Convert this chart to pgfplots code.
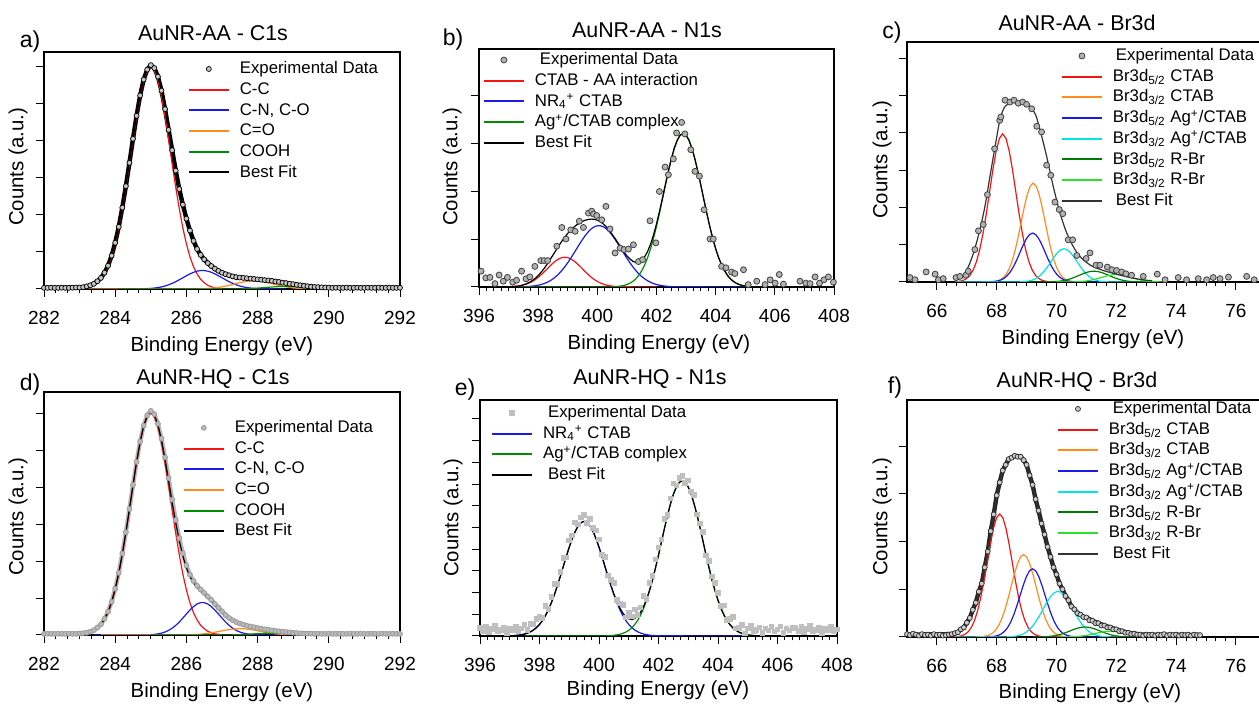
\documentclass[border=0pt]{standalone}
\usepackage{fontspec}
\setmainfont{Liberation Sans}
\usepackage{pgfplots}
\pgfplotsset{compat=1.18}
\definecolor{cRed}{RGB}{245,20,20}
\definecolor{cBlue}{RGB}{25,25,235}
\definecolor{cOrange}{RGB}{255,140,30}
\definecolor{cGreen}{RGB}{0,140,0}
\definecolor{cCyan}{RGB}{0,228,228}
\definecolor{cDGreen}{RGB}{0,125,0}
\definecolor{cLGreen}{RGB}{40,225,40}
\pgfplotsset{
  xps/.style={
    scale only axis, anchor=south west,
    axis line style={black, line width=0.6pt},
    tick align=outside, tick pos=left,
    major tick length=4pt, minor tick length=2.2pt,
    tick style={black, line width=0.5pt},
    yticklabels={}, ymin=0,
    xticklabel style={font=\fontsize{9.5}{10}\selectfont, yshift=-3.5pt},
    /pgf/number format/assume math mode=true,
    /pgf/number format/1000 sep={},
    legend style={draw=none, fill=none, anchor=north west, inner sep=0pt, outer sep=0pt,
      font=\fontsize{8.4}{9}\selectfont, row sep=0pt,
      nodes={inner sep=1pt, text height=6.5pt, text depth=1.85pt},
      /tikz/every odd column/.append style={column sep=4pt}},
    legend cell align=left,
    legend image code/.code={\draw[##1, line width=1pt] (0pt,0pt) -- (20pt,0pt);},
    every axis plot/.append style={line width=0.6pt},
  },
  mk/.style={only marks, legend image code/.code={\draw[##1,only marks] plot coordinates {(10pt,0pt)};}},
}
\begin{document}
\begin{tikzpicture}
\useasboundingbox (0,0) rectangle (629.5pt,352.5pt);
% ---------------- a ----------------
\begin{axis}[xps, at={(22pt,208pt)}, width=178pt, height=118.5pt,
  xmin=282, xmax=292, ymax=6.405, xtick={282,284,...,292}, ytick={0,...,6}, minor x tick num=5,
  legend style={at={(0.404,0.972)}}]
\addplot[black, line width=2.2pt, line join=round, forget plot] coordinates {(282.0,0.03)(282.5,0.035)(283.0,0.04)(283.1,0.05)(283.2,0.07)(283.3,0.10)(283.4,0.14)(283.5,0.21)(283.6,0.30)(283.7,0.44)(283.8,0.63)(283.9,0.90)(284.0,1.25)(284.1,1.68)(284.2,2.20)(284.3,2.78)(284.4,3.41)(284.5,4.06)(284.6,4.68)(284.7,5.23)(284.8,5.66)(284.9,5.93)(285.0,6.05)(285.1,5.97)(285.2,5.74)(285.3,5.36)(285.4,4.86)(285.5,4.30)(285.6,3.75)(285.7,3.20)(285.8,2.70)(285.9,2.28)(286.0,1.90)(286.1,1.58)(286.2,1.30)(286.3,1.08)(286.4,0.92)(286.5,0.80)(286.6,0.70)(286.7,0.62)(286.8,0.55)(286.9,0.49)(287.0,0.44)(287.2,0.37)(287.4,0.32)(287.6,0.30)(287.8,0.28)(288.0,0.26)(288.2,0.24)(288.4,0.22)(288.6,0.19)(288.8,0.16)(289.0,0.13)(289.2,0.10)(289.4,0.075)(289.6,0.055)(289.8,0.045)(290.0,0.035)(290.5,0.03)(292.0,0.03)};
\addplot[mk, mark=*, mark size=1.25pt, mark options={fill=gray!45, draw=black, line width=0.35pt}] coordinates {(282.0,0.03)(282.1,0.03)(282.2,0.035)(282.3,0.03)(282.4,0.03)(282.5,0.035)(282.6,0.03)(282.7,0.03)(282.8,0.035)(282.9,0.04)(283.0,0.04)(283.1,0.05)(283.2,0.07)(283.3,0.10)(283.4,0.14)(283.5,0.21)(283.6,0.30)(283.7,0.44)(283.8,0.63)(283.9,0.90)(284.0,1.25)(284.1,1.68)(284.2,2.20)(284.3,2.78)(284.4,3.41)(284.5,4.06)(284.6,4.68)(284.7,5.23)(284.8,5.66)(284.9,5.93)(285.0,6.05)(285.1,5.97)(285.2,5.74)(285.3,5.36)(285.4,4.86)(285.5,4.30)(285.6,3.75)(285.7,3.20)(285.8,2.70)(285.9,2.28)(286.0,1.90)(286.1,1.58)(286.2,1.30)(286.3,1.08)(286.4,0.92)(286.5,0.80)(286.6,0.70)(286.7,0.62)(286.8,0.55)(286.9,0.49)(287.0,0.44)(287.1,0.40)(287.2,0.37)(287.3,0.34)(287.4,0.32)(287.5,0.31)(287.6,0.30)(287.7,0.29)(287.8,0.28)(287.9,0.27)(288.0,0.26)(288.1,0.25)(288.2,0.24)(288.3,0.23)(288.4,0.22)(288.5,0.20)(288.6,0.19)(288.7,0.17)(288.8,0.16)(288.9,0.14)(289.0,0.13)(289.1,0.11)(289.2,0.10)(289.3,0.085)(289.4,0.075)(289.5,0.06)(289.6,0.055)(289.7,0.05)(289.8,0.045)(289.9,0.04)(290.0,0.035)(290.1,0.03)(290.2,0.035)(290.3,0.03)(290.4,0.03)(290.5,0.035)(290.6,0.03)(290.7,0.03)(290.8,0.035)(290.9,0.03)(291.0,0.03)(291.1,0.035)(291.2,0.03)(291.3,0.03)(291.4,0.035)(291.5,0.03)(291.6,0.03)(291.7,0.035)(291.8,0.03)(291.9,0.03)(292.0,0.035)};
\addlegendentry{Experimental Data}
\addplot[cRed] coordinates {(283.0,0.01)(283.1,0.02)(283.2,0.03)(283.3,0.06)(283.4,0.10)(283.5,0.17)(283.6,0.26)(283.7,0.41)(283.8,0.60)(283.9,0.87)(284.0,1.22)(284.1,1.65)(284.2,2.17)(284.3,2.75)(284.4,3.38)(284.5,4.03)(284.6,4.65)(284.7,5.20)(284.8,5.63)(284.9,5.90)(285.0,6.00)(285.1,5.90)(285.2,5.63)(285.3,5.20)(285.4,4.65)(285.5,4.03)(285.6,3.38)(285.7,2.75)(285.8,2.17)(285.9,1.65)(286.0,1.22)(286.1,0.87)(286.2,0.60)(286.3,0.41)(286.4,0.26)(286.5,0.17)(286.6,0.10)(286.7,0.06)(286.8,0.03)(286.9,0.02)(287.0,0.01)};
\addlegendentry{C-C}
\addplot[cBlue] coordinates {(284.9,0.01)(285.0,0.016)(285.1,0.025)(285.2,0.038)(285.3,0.056)(285.4,0.081)(285.5,0.113)(285.6,0.152)(285.7,0.197)(285.8,0.249)(285.9,0.303)(286.0,0.358)(286.1,0.408)(286.2,0.451)(286.3,0.482)(286.4,0.498)(286.5,0.498)(286.6,0.482)(286.7,0.451)(286.8,0.408)(286.9,0.358)(287.0,0.303)(287.1,0.249)(287.2,0.197)(287.3,0.152)(287.4,0.113)(287.5,0.081)(287.6,0.056)(287.7,0.038)(287.8,0.025)(287.9,0.016)(288.0,0.009)(288.8,0)};
\addlegendentry{C-N, C-O}
\addplot[cOrange] coordinates {(283.2,0)(286.3,0)(286.4,0.005)(286.5,0.009)(286.6,0.013)(286.7,0.020)(286.8,0.030)(286.9,0.042)(287.0,0.058)(287.1,0.076)(287.2,0.098)(287.3,0.121)(287.4,0.146)(287.5,0.169)(287.6,0.190)(287.7,0.206)(287.8,0.216)(287.9,0.220)(288.0,0.216)(288.1,0.206)(288.2,0.190)(288.3,0.169)(288.4,0.146)(288.5,0.121)(288.6,0.098)(288.7,0.076)(288.8,0.058)(288.9,0.042)(289.0,0.030)(289.1,0.020)(289.2,0.013)(289.3,0.009)(289.4,0.005)(289.5,0)};
\addlegendentry{C=O}
\addplot[cGreen] coordinates {(284.1,0)(287.5,0)(287.6,0.006)(287.7,0.009)(287.8,0.013)(287.9,0.018)(288.0,0.024)(288.1,0.031)(288.2,0.039)(288.3,0.046)(288.4,0.054)(288.5,0.060)(288.6,0.066)(288.7,0.069)(288.8,0.070)(288.9,0.069)(289.0,0.066)(289.1,0.060)(289.2,0.054)(289.3,0.046)(289.4,0.039)(289.5,0.031)(289.6,0.024)(289.7,0.018)(289.8,0.013)(289.9,0.009)(290.0,0.006)(290.1,0)};
\addlegendentry{COOH}
\addplot[black] coordinates {(282.0,0.03)(283.0,0.04)(283.1,0.05)(283.2,0.07)(283.3,0.10)(283.4,0.14)(283.5,0.21)(283.6,0.30)(283.7,0.44)(283.8,0.63)(283.9,0.90)(284.0,1.25)(284.1,1.68)(284.2,2.20)(284.3,2.78)(284.4,3.41)(284.5,4.06)(284.6,4.68)(284.7,5.23)(284.8,5.66)(284.9,5.93)(285.0,6.05)(285.1,5.97)(285.2,5.74)(285.3,5.36)(285.4,4.86)(285.5,4.30)(285.6,3.75)(285.7,3.20)(285.8,2.70)(285.9,2.28)(286.0,1.90)(286.1,1.58)(286.2,1.30)(286.3,1.08)(286.4,0.92)(286.5,0.80)(286.6,0.70)(286.7,0.62)(286.8,0.55)(286.9,0.49)(287.0,0.44)(287.2,0.37)(287.4,0.32)(287.6,0.30)(287.8,0.28)(288.0,0.26)(288.2,0.24)(288.4,0.22)(288.6,0.19)(288.8,0.16)(289.0,0.13)(289.2,0.10)(289.4,0.075)(289.6,0.055)(289.8,0.045)(290.0,0.035)(290.5,0.03)(292.0,0.03)};
\addlegendentry{Best Fit}
\end{axis}
% ---------------- b ----------------
\begin{axis}[xps, at={(239.5pt,209pt)}, width=177.5pt, height=119pt,
  xmin=396, xmax=408, ymax=4.96, xtick={396,398,...,408}, ytick={0,...,4}, minor x tick num=7,
  legend style={at={(0.011,0.997)}}]
\addplot[mk, mark=*, mark size=1.5pt, mark options={fill=gray!60, draw=black!75, line width=0.4pt}] coordinates {(396.07,0.33)(396.23,0.19)(396.37,0.20)(396.54,0.07)(396.68,0.25)(396.82,0.12)(396.96,0.20)(397.14,0.10)(397.27,0.14)(397.44,0.33)(397.59,0.17)(397.72,0.21)(397.89,0.43)(398.09,0.55)(398.20,0.55)(398.32,0.55)(398.63,0.85)(398.80,1.24)(398.94,1.00)(399.10,1.19)(399.25,1.16)(399.39,1.37)(399.53,1.24)(399.70,1.54)(399.81,1.58)(399.87,1.52)(399.98,1.49)(400.15,1.40)(400.29,1.68)(400.43,1.21)(400.60,0.71)(400.77,0.81)(400.90,0.78)(401.05,0.79)(401.22,0.88)(401.39,0.53)(401.53,0.57)(401.78,1.38)(401.98,0.92)(402.10,1.99)(402.29,2.50)(402.40,2.34)(402.57,2.67)(402.68,3.21)(402.85,3.43)(402.96,3.19)(403.16,2.86)(403.30,2.41)(403.45,2.31)(403.61,1.61)(403.81,1.00)(403.92,1.00)(404.20,0.43)(404.35,0.40)(404.54,0.31)(404.65,0.28)(404.94,0.36)(405.10,0.05)(405.39,0.12)(405.67,0.05)(405.84,0.15)(406.01,0.08)(406.15,0.26)(406.29,0.06)(406.85,0.12)(407.05,0.08)(407.19,0.07)(407.36,0.21)(407.51,0.08)(407.66,0.15)(407.81,0.21)(407.98,0.10)};
\addlegendentry{\hspace{2.5pt}Experimental Data}
\addplot[cRed] coordinates {(397.0,0.004)(397.1,0.007)(397.2,0.011)(397.3,0.018)(397.4,0.027)(397.5,0.041)(397.6,0.059)(397.7,0.084)(397.8,0.115)(397.9,0.154)(398.0,0.20)(398.1,0.255)(398.2,0.314)(398.3,0.376)(398.4,0.438)(398.5,0.497)(398.6,0.547)(398.7,0.587)(398.8,0.611)(398.9,0.62)(399.0,0.611)(399.1,0.587)(399.2,0.547)(399.3,0.497)(399.4,0.438)(399.5,0.376)(399.6,0.314)(399.7,0.255)(399.8,0.20)(399.9,0.154)(400.0,0.115)(400.1,0.084)(400.2,0.059)(400.3,0.041)(400.4,0.027)(400.5,0.018)(400.6,0.011)(400.7,0.007)(400.8,0.004)(402.0,0)};
\addlegendentry{CTAB - AA interaction}
\addplot[cBlue] coordinates {(397.0,0)(397.5,0.005)(397.6,0.008)(397.7,0.012)(397.8,0.018)(397.9,0.026)(398.0,0.037)(398.1,0.052)(398.2,0.071)(398.3,0.097)(398.4,0.129)(398.5,0.169)(398.6,0.217)(398.7,0.275)(398.8,0.343)(398.9,0.420)(399.0,0.506)(399.1,0.598)(399.2,0.696)(399.3,0.796)(399.4,0.896)(399.5,0.992)(399.6,1.079)(399.7,1.154)(399.8,1.215)(399.9,1.256)(400.0,1.277)(400.1,1.277)(400.2,1.256)(400.3,1.215)(400.4,1.154)(400.5,1.079)(400.6,0.992)(400.7,0.896)(400.8,0.796)(400.9,0.696)(401.0,0.598)(401.1,0.506)(401.2,0.420)(401.3,0.343)(401.4,0.275)(401.5,0.217)(401.6,0.169)(401.7,0.129)(401.8,0.097)(401.9,0.071)(402.0,0.052)(402.1,0.037)(402.2,0.026)(402.3,0.018)(402.4,0.012)(402.5,0.008)(402.6,0.005)(405.1,0)};
\addlegendentry{NR\textsubscript{4}\textsuperscript{+} CTAB}
\addplot[cGreen] coordinates {(397.2,0)(400.5,0)(400.6,0.007)(400.7,0.012)(400.8,0.020)(400.9,0.032)(401.0,0.051)(401.1,0.078)(401.2,0.116)(401.3,0.169)(401.4,0.242)(401.5,0.338)(401.6,0.46)(401.7,0.612)(401.8,0.798)(401.9,1.015)(402.0,1.264)(402.1,1.535)(402.2,1.824)(402.3,2.117)(402.4,2.40)(402.5,2.662)(402.6,2.886)(402.7,3.056)(402.8,3.164)(402.9,3.2)(403.0,3.164)(403.1,3.056)(403.2,2.886)(403.3,2.662)(403.4,2.40)(403.5,2.117)(403.6,1.824)(403.7,1.535)(403.8,1.264)(403.9,1.015)(404.0,0.798)(404.1,0.612)(404.2,0.46)(404.3,0.338)(404.4,0.242)(404.5,0.169)(404.6,0.116)(404.7,0.078)(404.8,0.051)(404.9,0.032)(405.0,0.020)(405.1,0.012)(405.2,0.007)(405.3,0)};
\addlegendentry{Ag\textsuperscript{+}/CTAB complex}
\addplot[black] coordinates {(397.0,0.004)(397.1,0.007)(397.2,0.011)(397.3,0.018)(397.4,0.027)(397.5,0.046)(397.6,0.067)(397.7,0.096)(397.8,0.133)(397.9,0.18)(398.0,0.237)(398.1,0.307)(398.2,0.385)(398.3,0.473)(398.4,0.567)(398.5,0.666)(398.6,0.764)(398.7,0.862)(398.8,0.954)(398.9,1.04)(399.0,1.117)(399.1,1.185)(399.2,1.243)(399.3,1.293)(399.4,1.334)(399.5,1.368)(399.6,1.393)(399.7,1.409)(399.8,1.415)(399.9,1.41)(400.0,1.392)(400.1,1.361)(400.2,1.315)(400.3,1.256)(400.4,1.181)(400.5,1.097)(400.6,1.01)(400.7,0.915)(400.8,0.82)(400.9,0.73)(401.0,0.649)(401.1,0.584)(401.2,0.536)(401.3,0.512)(401.4,0.517)(401.5,0.555)(401.6,0.629)(401.7,0.741)(401.8,0.895)(401.9,1.086)(402.0,1.316)(402.1,1.572)(402.2,1.85)(402.3,2.135)(402.4,2.412)(402.5,2.67)(402.6,2.891)(402.7,3.059)(402.8,3.164)(402.9,3.2)(403.0,3.164)(403.1,3.056)(403.2,2.886)(403.3,2.662)(403.4,2.40)(403.5,2.117)(403.6,1.824)(403.7,1.535)(403.8,1.264)(403.9,1.015)(404.0,0.798)(404.1,0.612)(404.2,0.46)(404.3,0.338)(404.4,0.242)(404.5,0.169)(404.6,0.116)(404.7,0.078)(404.8,0.051)(404.9,0.032)(405.0,0.020)(405.1,0.012)(405.2,0.007)(405.3,0)};
\addlegendentry{Best Fit}
\end{axis}
% ---------------- c ----------------
\begin{axis}[xps, at={(453.5pt,211.5pt)}, width=179.4pt, height=120pt,
  xmin=65, xmax=77, ymax=6.43, xtick={66,68,...,76}, ytick={0,...,6}, minor x tick num=5,
  legend style={at={(0.429,0.985)}}]
\addplot[mk, mark=*, mark size=1.5pt, mark options={fill=gray!60, draw=black!75, line width=0.4pt}] coordinates {(65.10,0.12)(65.27,0.06)(65.64,0.27)(65.94,0.21)(66.05,0.06)(66.21,0.09)(66.64,0.12)(66.77,0.15)(66.97,0.18)(67.05,0.29)(67.27,0.87)(67.39,1.37)(67.55,1.54)(67.69,2.34)(67.93,3.57)(68.10,4.33)(68.14,4.42)(68.28,4.87)(68.44,4.82)(68.58,4.87)(68.72,4.79)(68.87,4.82)(69.00,4.76)(69.17,4.64)(69.34,4.17)(69.50,4.02)(69.67,3.13)(69.81,2.86)(69.95,2.14)(70.09,1.94)(70.21,1.83)(70.39,1.13)(70.54,1.13)(70.68,0.71)(70.99,0.63)(71.12,0.78)(71.32,0.45)(71.45,0.45)(71.70,0.40)(71.85,0.33)(72.01,0.31)(72.18,0.27)(72.32,0.22)(72.51,0.18)(72.90,0.15)(73.37,0.21)(73.63,0.06)(74.07,0.12)(74.35,0.06)(74.74,0.09)(75.02,0.06)(75.24,0.12)(75.47,0.09)(75.75,0.13)(76.36,0.15)(76.61,0.06)};
\addlegendentry{\hspace{1.5pt}Experimental Data}
\addplot[cRed] coordinates {(66.6,0)(66.66,0.009)(66.77,0.020)(66.88,0.044)(66.99,0.091)(67.10,0.174)(67.21,0.316)(67.32,0.537)(67.43,0.859)(67.54,1.289)(67.65,1.817)(67.76,2.408)(67.87,2.997)(67.98,3.504)(68.09,3.847)(68.20,3.97)(68.31,3.847)(68.42,3.504)(68.53,2.997)(68.64,2.408)(68.75,1.817)(68.86,1.289)(68.97,0.859)(69.08,0.537)(69.19,0.316)(69.30,0.174)(69.41,0.091)(69.52,0.044)(69.63,0.020)(69.74,0.009)(70.5,0)};
\addlegendentry{Br3d\textsubscript{5/2} CTAB}
\addplot[cOrange] coordinates {(67.5,0)(67.82,0.006)(67.92,0.0135)(68.02,0.029)(68.12,0.06)(68.22,0.116)(68.32,0.211)(68.42,0.359)(68.52,0.573)(68.62,0.86)(68.72,1.213)(68.82,1.607)(68.92,2.0)(69.02,2.339)(69.12,2.568)(69.22,2.65)(69.32,2.568)(69.42,2.339)(69.52,2.0)(69.62,1.607)(69.72,1.213)(69.82,0.86)(69.92,0.573)(70.02,0.359)(70.12,0.211)(70.22,0.116)(70.32,0.06)(70.42,0.029)(70.52,0.0135)(70.62,0.006)(71.0,0)};
\addlegendentry{Br3d\textsubscript{3/2} CTAB}
\addplot[cBlue] coordinates {(67.5,0)(67.73,0.0029)(67.835,0.0067)(67.94,0.0145)(68.045,0.030)(68.15,0.0575)(68.255,0.104)(68.36,0.177)(68.465,0.283)(68.57,0.425)(68.675,0.600)(68.78,0.795)(68.885,0.989)(68.99,1.156)(69.095,1.269)(69.2,1.31)(69.305,1.269)(69.41,1.156)(69.515,0.989)(69.62,0.795)(69.725,0.600)(69.83,0.425)(69.935,0.283)(70.04,0.177)(70.145,0.104)(70.25,0.0575)(70.355,0.030)(70.46,0.0145)(70.565,0.0067)(70.67,0.0029)(71.7,0)};
\addlegendentry{Br3d\textsubscript{5/2} Ag\textsuperscript{+}/CTAB}
\addplot[cCyan] coordinates {(66.6,0)(68.71,0.002)(68.82,0.0045)(68.93,0.0099)(69.04,0.0203)(69.15,0.039)(69.26,0.0708)(69.37,0.120)(69.48,0.1925)(69.59,0.289)(69.70,0.407)(69.81,0.540)(69.92,0.672)(70.03,0.785)(70.14,0.862)(70.25,0.89)(70.36,0.862)(70.47,0.785)(70.58,0.672)(70.69,0.540)(70.80,0.407)(70.91,0.289)(71.02,0.1925)(71.13,0.120)(71.24,0.0708)(71.35,0.039)(71.46,0.0203)(71.57,0.0099)(71.68,0.0045)(71.79,0.002)(73.3,0)};
\addlegendentry{Br3d\textsubscript{3/2} Ag\textsuperscript{+}/CTAB}
\addplot[cDGreen] coordinates {(69.0,0)(69.75,0.0032)(69.875,0.0066)(70.0,0.013)(70.125,0.023)(70.25,0.039)(70.375,0.063)(70.5,0.094)(70.625,0.133)(70.75,0.176)(70.875,0.219)(71.0,0.256)(71.125,0.281)(71.25,0.29)(71.375,0.281)(71.5,0.256)(71.625,0.219)(71.75,0.176)(71.875,0.133)(72.0,0.094)(72.125,0.063)(72.25,0.039)(72.375,0.023)(72.5,0.013)(72.625,0.0066)(72.75,0.0032)(73.0,0)};
\addlegendentry{Br3d\textsubscript{5/2} R-Br}
\addplot[cLGreen] coordinates {(70.0,0)(70.5,0.0022)(70.625,0.0046)(70.75,0.0088)(70.875,0.0159)(71.0,0.027)(71.125,0.0433)(71.25,0.065)(71.375,0.0916)(71.5,0.121)(71.625,0.151)(71.75,0.1765)(71.875,0.194)(72.0,0.2)(72.125,0.194)(72.25,0.1765)(72.375,0.151)(72.5,0.121)(72.625,0.0916)(72.75,0.065)(72.875,0.0433)(73.0,0.027)(73.125,0.0159)(73.25,0.0088)(73.375,0.0046)(73.5,0.0022)(73.7,0)};
\addlegendentry{Br3d\textsubscript{3/2} R-Br}
\addplot[black!80, smooth] coordinates {(66.6,0.03)(66.8,0.12)(67.0,0.32)(67.2,0.72)(67.4,1.28)(67.6,2.0)(67.8,2.95)(68.0,3.88)(68.1,4.32)(68.2,4.58)(68.3,4.72)(68.5,4.81)(68.8,4.83)(69.0,4.78)(69.1,4.72)(69.3,4.48)(69.45,4.07)(69.6,3.6)(69.7,3.26)(69.9,2.53)(70.1,1.9)(70.3,1.4)(70.5,1.04)(70.7,0.77)(70.9,0.59)(71.2,0.42)(71.6,0.3)(72.0,0.21)(72.4,0.13)(72.8,0.07)(73.2,0.03)};
\addlegendentry{\hspace{1.5pt}Best Fit}
\end{axis}
% ---------------- d ----------------
\begin{axis}[xps, at={(22pt,35pt)}, width=178pt, height=121.5pt,
  xmin=282, xmax=292, ymax=6.57, xtick={282,284,...,292}, ytick={0,...,6}, minor x tick num=5,
  legend style={at={(0.390,0.895)}}]
\addplot[gray!55, line width=2.2pt, line join=round, forget plot] coordinates {(282.0,0.03)(283.0,0.04)(283.1,0.05)(283.2,0.06)(283.3,0.09)(283.4,0.13)(283.5,0.20)(283.6,0.29)(283.7,0.44)(283.8,0.63)(283.9,0.90)(284.0,1.25)(284.1,1.68)(284.2,2.20)(284.3,2.78)(284.4,3.41)(284.5,4.06)(284.6,4.68)(284.7,5.23)(284.8,5.66)(284.9,5.94)(285.0,6.06)(285.1,5.97)(285.2,5.71)(285.3,5.31)(285.4,4.80)(285.5,4.24)(285.6,3.66)(285.7,3.11)(285.8,2.62)(285.9,2.21)(286.0,1.88)(286.1,1.63)(286.2,1.46)(286.3,1.33)(286.4,1.23)(286.5,1.14)(286.6,1.04)(286.7,0.95)(286.8,0.84)(286.9,0.74)(287.0,0.64)(287.1,0.54)(287.2,0.46)(287.3,0.40)(287.4,0.35)(287.5,0.31)(287.6,0.28)(287.7,0.25)(287.8,0.23)(287.9,0.21)(288.0,0.19)(288.2,0.155)(288.4,0.125)(288.6,0.10)(288.8,0.08)(289.0,0.06)(289.2,0.045)(289.4,0.04)(289.6,0.03)(292.0,0.03)};
\addplot[mk, mark=*, mark size=1.25pt, mark options={fill=gray!55, draw=gray!80, line width=0.35pt}] coordinates {(282.0,0.03)(282.1,0.035)(282.2,0.03)(282.3,0.03)(282.4,0.035)(282.5,0.03)(282.6,0.03)(282.7,0.035)(282.8,0.03)(282.9,0.03)(283.0,0.04)(283.1,0.05)(283.2,0.06)(283.3,0.09)(283.4,0.13)(283.5,0.20)(283.6,0.29)(283.7,0.44)(283.8,0.63)(283.9,0.90)(284.0,1.25)(284.1,1.68)(284.2,2.20)(284.3,2.78)(284.4,3.41)(284.5,4.06)(284.6,4.68)(284.7,5.23)(284.8,5.66)(284.9,5.94)(285.0,6.06)(285.1,5.97)(285.2,5.71)(285.3,5.31)(285.4,4.80)(285.5,4.24)(285.6,3.66)(285.7,3.11)(285.8,2.62)(285.9,2.21)(286.0,1.88)(286.1,1.63)(286.2,1.46)(286.3,1.33)(286.4,1.23)(286.5,1.14)(286.6,1.04)(286.7,0.95)(286.8,0.84)(286.9,0.74)(287.0,0.64)(287.1,0.54)(287.2,0.46)(287.3,0.40)(287.4,0.35)(287.5,0.31)(287.6,0.28)(287.7,0.25)(287.8,0.23)(287.9,0.21)(288.0,0.19)(288.1,0.17)(288.2,0.155)(288.3,0.14)(288.4,0.125)(288.5,0.11)(288.6,0.10)(288.7,0.09)(288.8,0.08)(288.9,0.07)(289.0,0.06)(289.1,0.05)(289.2,0.045)(289.3,0.04)(289.4,0.04)(289.5,0.035)(289.6,0.03)(289.7,0.035)(289.8,0.03)(289.9,0.03)(290.0,0.035)(290.1,0.03)(290.2,0.03)(290.3,0.035)(290.4,0.03)(290.5,0.03)(290.6,0.035)(290.7,0.03)(290.8,0.03)(290.9,0.035)(291.0,0.03)(291.1,0.03)(291.2,0.035)(291.3,0.03)(291.4,0.03)(291.5,0.035)(291.6,0.03)(291.7,0.03)(291.8,0.035)(291.9,0.03)(292.0,0.03)};
\addlegendentry{Experimental Data}
\addplot[cRed] coordinates {(283.0,0.01)(283.1,0.02)(283.2,0.03)(283.3,0.06)(283.4,0.10)(283.5,0.17)(283.6,0.26)(283.7,0.41)(283.8,0.60)(283.9,0.87)(284.0,1.22)(284.1,1.65)(284.2,2.17)(284.3,2.75)(284.4,3.38)(284.5,4.03)(284.6,4.65)(284.7,5.20)(284.8,5.63)(284.9,5.90)(285.0,6.00)(285.1,5.90)(285.2,5.63)(285.3,5.20)(285.4,4.65)(285.5,4.03)(285.6,3.38)(285.7,2.75)(285.8,2.17)(285.9,1.65)(286.0,1.22)(286.1,0.87)(286.2,0.60)(286.3,0.41)(286.4,0.26)(286.5,0.17)(286.6,0.10)(286.7,0.06)(286.8,0.03)(286.9,0.02)(287.0,0.01)};
\addlegendentry{C-C}
\addplot[cBlue] coordinates {(283.4,0)(284.9,0.005)(285.0,0.009)(285.1,0.017)(285.2,0.030)(285.3,0.050)(285.4,0.080)(285.5,0.124)(285.6,0.184)(285.7,0.260)(285.8,0.352)(285.9,0.457)(286.0,0.567)(286.1,0.675)(286.2,0.768)(286.3,0.838)(286.4,0.875)(286.5,0.875)(286.6,0.838)(286.7,0.768)(286.8,0.675)(286.9,0.567)(287.0,0.457)(287.1,0.352)(287.2,0.260)(287.3,0.184)(287.4,0.124)(287.5,0.080)(287.6,0.050)(287.7,0.030)(287.8,0.017)(287.9,0.009)(288.0,0.005)(288.7,0)};
\addlegendentry{C-N, C-O}
\addplot[cOrange] coordinates {(283.6,0)(285.9,0)(286.0,0.004)(286.1,0.007)(286.2,0.010)(286.3,0.016)(286.4,0.023)(286.5,0.032)(286.6,0.045)(286.7,0.059)(286.8,0.076)(286.9,0.094)(287.0,0.113)(287.1,0.131)(287.2,0.147)(287.3,0.159)(287.4,0.167)(287.5,0.170)(287.6,0.167)(287.7,0.159)(287.8,0.147)(287.9,0.131)(288.0,0.113)(288.1,0.094)(288.2,0.076)(288.3,0.059)(288.4,0.045)(288.5,0.032)(288.6,0.023)(288.7,0.016)(288.8,0.010)(288.9,0.007)(289.0,0.004)(289.7,0)};
\addlegendentry{C=O}
\addplot[cGreen] coordinates {(285.0,0)(287.2,0)(287.3,0.0045)(287.4,0.007)(287.5,0.010)(287.6,0.014)(287.7,0.019)(287.8,0.024)(287.9,0.030)(288.0,0.036)(288.1,0.042)(288.2,0.046)(288.3,0.049)(288.4,0.050)(288.5,0.049)(288.6,0.046)(288.7,0.042)(288.8,0.036)(288.9,0.030)(289.0,0.024)(289.1,0.019)(289.2,0.014)(289.3,0.010)(289.4,0.007)(289.5,0.0045)(289.6,0)};
\addlegendentry{COOH}
\addplot[black] coordinates {(282.0,0.03)(283.0,0.04)(283.1,0.05)(283.2,0.06)(283.3,0.09)(283.4,0.13)(283.5,0.20)(283.6,0.29)(283.7,0.44)(283.8,0.63)(283.9,0.90)(284.0,1.25)(284.1,1.68)(284.2,2.20)(284.3,2.78)(284.4,3.41)(284.5,4.06)(284.6,4.68)(284.7,5.23)(284.8,5.66)(284.9,5.935)(285.0,6.04)(285.1,5.95)(285.2,5.69)(285.3,5.28)(285.4,4.76)(285.5,4.18)(285.6,3.59)(285.7,3.04)(285.8,2.55)(285.9,2.14)(286.0,1.82)(286.1,1.58)(286.2,1.41)(286.3,1.29)(286.4,1.19)(286.5,1.11)(286.6,1.01)(286.7,0.92)(286.8,0.81)(286.9,0.71)(287.0,0.61)(287.1,0.51)(287.2,0.44)(287.3,0.38)(287.4,0.33)(287.5,0.29)(287.6,0.26)(287.7,0.24)(287.8,0.22)(287.9,0.20)(288.0,0.184)(288.1,0.166)(288.2,0.152)(288.3,0.138)(288.4,0.125)(288.5,0.111)(288.6,0.099)(288.7,0.088)(288.8,0.076)(288.9,0.067)(289.0,0.058)(289.1,0.049)(289.2,0.044)(289.3,0.04)(289.4,0.037)(289.5,0.035)(289.6,0.03)(292.0,0.03)};
\addlegendentry{Best Fit}
\end{axis}
% ---------------- e ----------------
\begin{axis}[xps, at={(240pt,34.5pt)}, width=178.5pt, height=118pt,
  xmin=396, xmax=408, ymax=10.87, xtick={396,398,...,408}, ytick={0,...,10}, minor x tick num=7,
  legend style={at={(0.031,0.989)}}]
\addplot[mk, mark=square*, mark size=1.1pt, mark options={fill=gray!50, draw=gray!50}] coordinates {(396.0,0.36)(396.1,0.22)(396.2,0.42)(396.3,0.18)(396.4,0.32)(396.5,0.46)(396.6,0.21)(396.7,0.28)(396.8,0.39)(396.9,0.14)(397.0,0.34)(397.1,0.25)(397.2,0.41)(397.3,0.24)(397.4,0.35)(397.5,0.52)(397.6,0.28)(397.7,0.54)(397.8,0.54)(397.9,0.77)(398.0,0.88)(398.1,0.82)(398.2,1.38)(398.3,1.23)(398.4,1.80)(398.5,2.40)(398.6,2.39)(398.7,2.95)(398.8,3.58)(398.9,3.62)(399.0,4.39)(399.1,4.62)(399.2,5.23)(399.3,5.13)(399.4,5.45)(399.5,5.58)(399.6,5.21)(399.7,5.39)(399.8,4.98)(399.9,4.85)(400.0,4.44)(400.1,3.76)(400.2,3.64)(400.3,2.78)(400.4,2.59)(400.5,2.43)(400.6,1.67)(400.7,1.49)(400.8,1.44)(400.9,0.85)(401.0,1.09)(401.1,0.90)(401.2,1.22)(401.3,0.97)(401.4,1.32)(401.5,1.83)(401.6,1.69)(401.7,2.44)(401.8,2.76)(401.9,3.52)(402.0,4.07)(402.1,4.44)(402.2,5.40)(402.3,5.56)(402.4,6.33)(402.5,7.02)(402.6,6.94)(402.7,7.28)(402.8,7.38)(402.9,7.04)(403.0,7.16)(403.1,6.66)(403.2,6.49)(403.3,5.60)(403.4,5.18)(403.5,4.80)(403.6,3.70)(403.7,3.45)(403.8,2.74)(403.9,2.45)(404.0,1.99)(404.1,1.38)(404.2,1.41)(404.3,0.74)(404.4,0.79)(404.5,0.88)(404.6,0.34)(404.7,0.38)(404.8,0.50)(404.9,0.12)(405.0,0.35)(405.1,0.46)(405.2,0.21)(405.3,0.28)(405.4,0.39)(405.5,0.14)(405.6,0.34)(405.7,0.25)(405.8,0.41)(405.9,0.20)(406.0,0.29)(406.1,0.43)(406.2,0.15)(406.3,0.35)(406.4,0.26)(406.5,0.38)(406.6,0.36)(406.7,0.22)(406.8,0.42)(406.9,0.18)(407.0,0.32)(407.1,0.46)(407.2,0.21)(407.3,0.28)(407.4,0.39)(407.5,0.14)(407.6,0.34)(407.7,0.25)(407.8,0.41)(407.9,0.20)(408.0,0.29)};
\addlegendentry{\hspace{2.5pt}Experimental Data}
\addplot[cBlue] coordinates {(397.0,0.009)(397.1,0.015)(397.2,0.024)(397.3,0.038)(397.4,0.059)(397.5,0.089)(397.6,0.133)(397.7,0.194)(397.8,0.277)(397.9,0.388)(398.0,0.533)(398.1,0.713)(398.2,0.94)(398.3,1.214)(398.4,1.536)(398.5,1.901)(398.6,2.313)(398.7,2.746)(398.8,3.202)(398.9,3.659)(399.0,4.092)(399.1,4.483)(399.2,4.815)(399.3,5.069)(399.4,5.227)(399.5,5.28)(399.6,5.227)(399.7,5.069)(399.8,4.815)(399.9,4.483)(400.0,4.092)(400.1,3.659)(400.2,3.202)(400.3,2.746)(400.4,2.313)(400.5,1.901)(400.6,1.536)(400.7,1.214)(400.8,0.94)(400.9,0.713)(401.0,0.533)(401.1,0.388)(401.2,0.277)(401.3,0.194)(401.4,0.133)(401.5,0.089)(401.6,0.059)(401.7,0.038)(401.8,0.024)(401.9,0.015)(402.0,0.009)(405.0,0)};
\addlegendentry{NR\textsubscript{4}\textsuperscript{+} CTAB}
\addplot[cGreen] coordinates {(397.5,0)(400.2,0)(400.3,0.012)(400.4,0.020)(400.5,0.032)(400.6,0.051)(400.7,0.079)(400.8,0.121)(400.9,0.179)(401.0,0.262)(401.1,0.375)(401.2,0.525)(401.3,0.722)(401.4,0.965)(401.5,1.273)(401.6,1.645)(401.7,2.081)(401.8,2.574)(401.9,3.132)(402.0,3.718)(402.1,4.336)(402.2,4.955)(402.3,5.541)(402.4,6.07)(402.5,6.521)(402.6,6.864)(402.7,7.079)(402.8,7.15)(402.9,7.079)(403.0,6.864)(403.1,6.521)(403.2,6.07)(403.3,5.541)(403.4,4.955)(403.5,4.336)(403.6,3.718)(403.7,3.132)(403.8,2.574)(403.9,2.081)(404.0,1.645)(404.1,1.273)(404.2,0.965)(404.3,0.722)(404.4,0.525)(404.5,0.375)(404.6,0.262)(404.7,0.179)(404.8,0.121)(404.9,0.079)(405.0,0.051)(405.1,0.032)(405.2,0.020)(405.3,0.012)(405.4,0)};
\addlegendentry{Ag\textsuperscript{+}/CTAB complex}
\addplot[black] coordinates {(396.0,0)(397.0,0.009)(397.1,0.015)(397.2,0.024)(397.3,0.038)(397.4,0.059)(397.5,0.089)(397.6,0.133)(397.7,0.194)(397.8,0.277)(397.9,0.388)(398.0,0.533)(398.1,0.713)(398.2,0.94)(398.3,1.214)(398.4,1.536)(398.5,1.901)(398.6,2.313)(398.7,2.746)(398.8,3.202)(398.9,3.659)(399.0,4.092)(399.1,4.483)(399.2,4.815)(399.3,5.069)(399.4,5.227)(399.5,5.28)(399.6,5.227)(399.7,5.069)(399.8,4.815)(399.9,4.483)(400.0,4.092)(400.1,3.659)(400.2,3.202)(400.3,2.758)(400.4,2.333)(400.5,1.933)(400.6,1.587)(400.7,1.293)(400.8,1.061)(400.9,0.892)(401.0,0.795)(401.1,0.763)(401.2,0.802)(401.3,0.916)(401.4,1.098)(401.5,1.362)(401.6,1.704)(401.7,2.119)(401.8,2.598)(401.9,3.147)(402.0,3.727)(402.1,4.336)(402.2,4.955)(402.3,5.541)(402.4,6.07)(402.5,6.521)(402.6,6.864)(402.7,7.079)(402.8,7.15)(402.9,7.079)(403.0,6.864)(403.1,6.521)(403.2,6.07)(403.3,5.541)(403.4,4.955)(403.5,4.336)(403.6,3.718)(403.7,3.132)(403.8,2.574)(403.9,2.081)(404.0,1.645)(404.1,1.273)(404.2,0.965)(404.3,0.722)(404.4,0.525)(404.5,0.375)(404.6,0.262)(404.7,0.179)(404.8,0.121)(404.9,0.079)(405.0,0.051)(405.1,0.032)(405.2,0.020)(405.3,0.012)(405.5,0)(408.0,0)};
\addlegendentry{\hspace{2.5pt}Best Fit}
\end{axis}
% ---------------- f ----------------
\begin{axis}[xps, at={(453.5pt,34pt)}, width=179.4pt, height=118.5pt,
  xmin=65, xmax=77, ymax=4.97, xtick={66,68,...,76}, ytick={0,...,4}, minor x tick num=5,
  legend style={at={(0.418,1.006)}}]
\addplot[black!85, line width=2.2pt, line join=round, forget plot] coordinates {(65.0,0.05)(66.5,0.06)(66.6,0.08)(66.7,0.10)(66.8,0.16)(66.9,0.20)(67.0,0.30)(67.1,0.40)(67.2,0.57)(67.3,0.72)(67.4,0.95)(67.5,1.12)(67.6,1.46)(67.7,1.79)(67.8,2.22)(67.9,2.57)(68.0,2.97)(68.1,3.24)(68.2,3.49)(68.3,3.61)(68.4,3.73)(68.5,3.76)(68.6,3.80)(68.7,3.78)(68.8,3.78)(68.9,3.71)(69.0,3.61)(69.1,3.39)(69.2,3.19)(69.3,2.89)(69.4,2.65)(69.5,2.38)(69.6,2.15)(69.7,1.89)(69.8,1.68)(69.9,1.46)(70.0,1.31)(70.1,1.12)(70.2,1.00)(70.3,0.86)(70.4,0.77)(70.5,0.64)(70.6,0.58)(70.7,0.50)(70.8,0.47)(70.9,0.42)(71.0,0.41)(71.2,0.34)(71.4,0.29)(71.6,0.24)(71.8,0.20)(72.0,0.16)(72.2,0.12)(72.4,0.09)(72.6,0.07)(72.8,0.05)(74.8,0.04)};
\addplot[mk, mark=*, mark size=1.25pt, mark options={fill=gray!40, draw=black!85, line width=0.35pt}] coordinates {(65.0,0.06)(65.1,0.04)(65.2,0.07)(65.3,0.05)(65.4,0.03)(65.5,0.06)(65.6,0.04)(65.7,0.05)(65.8,0.03)(65.9,0.06)(66.0,0.04)(66.1,0.05)(66.2,0.03)(66.3,0.04)(66.4,0.05)(66.5,0.06)(66.6,0.08)(66.7,0.10)(66.8,0.16)(66.9,0.20)(67.0,0.30)(67.1,0.40)(67.2,0.57)(67.3,0.72)(67.4,0.95)(67.5,1.12)(67.6,1.46)(67.7,1.79)(67.8,2.22)(67.9,2.57)(68.0,2.97)(68.1,3.24)(68.2,3.49)(68.3,3.61)(68.4,3.73)(68.5,3.76)(68.6,3.80)(68.7,3.78)(68.8,3.78)(68.9,3.71)(69.0,3.61)(69.1,3.39)(69.2,3.19)(69.3,2.89)(69.4,2.65)(69.5,2.38)(69.6,2.15)(69.7,1.89)(69.8,1.68)(69.9,1.46)(70.0,1.31)(70.1,1.12)(70.2,1.00)(70.3,0.86)(70.4,0.77)(70.5,0.64)(70.6,0.58)(70.7,0.50)(70.8,0.47)(70.9,0.42)(71.0,0.41)(71.1,0.35)(71.2,0.34)(71.3,0.29)(71.4,0.29)(71.5,0.24)(71.6,0.24)(71.7,0.20)(71.8,0.20)(71.9,0.16)(72.0,0.16)(72.1,0.12)(72.2,0.12)(72.3,0.09)(72.4,0.09)(72.5,0.06)(72.6,0.07)(72.7,0.05)(72.8,0.05)(72.9,0.03)(73.0,0.05)(73.1,0.04)(73.2,0.05)(73.3,0.03)(73.4,0.05)(73.5,0.04)(73.6,0.06)(73.7,0.03)(73.8,0.05)(73.9,0.04)(74.0,0.05)(74.1,0.03)(74.2,0.05)(74.3,0.04)(74.4,0.05)(74.5,0.03)(74.6,0.05)(74.7,0.04)(74.8,0.04)};
\addlegendentry{\hspace{2pt}Experimental Data}
\addplot[cRed] coordinates {(66.5,0)(66.63,0.006)(66.735,0.013)(66.84,0.029)(66.945,0.059)(67.05,0.113)(67.155,0.205)(67.26,0.349)(67.365,0.558)(67.47,0.838)(67.575,1.181)(67.68,1.565)(67.785,1.947)(67.89,2.277)(67.995,2.50)(68.1,2.58)(68.205,2.50)(68.31,2.277)(68.415,1.947)(68.52,1.565)(68.625,1.181)(68.73,0.838)(68.835,0.558)(68.94,0.349)(69.045,0.205)(69.15,0.113)(69.255,0.059)(69.36,0.029)(69.465,0.013)(69.57,0.006)(70.4,0)};
\addlegendentry{Br3d\textsubscript{5/2} CTAB}
\addplot[cOrange] coordinates {(67.3,0)(67.43,0.004)(67.535,0.009)(67.64,0.019)(67.745,0.039)(67.85,0.076)(67.955,0.1375)(68.06,0.234)(68.165,0.374)(68.27,0.562)(68.375,0.792)(68.48,1.049)(68.585,1.306)(68.69,1.527)(68.795,1.676)(68.9,1.73)(69.005,1.676)(69.11,1.527)(69.215,1.306)(69.32,1.049)(69.425,0.792)(69.53,0.562)(69.635,0.374)(69.74,0.234)(69.845,0.1375)(69.95,0.076)(70.055,0.039)(70.16,0.019)(70.265,0.009)(70.37,0.004)(70.6,0)};
\addlegendentry{Br3d\textsubscript{3/2} CTAB}
\addplot[cBlue] coordinates {(67.6,0)(67.73,0.003)(67.835,0.007)(67.94,0.016)(68.045,0.033)(68.15,0.063)(68.255,0.114)(68.36,0.193)(68.465,0.309)(68.57,0.464)(68.675,0.655)(68.78,0.867)(68.885,1.079)(68.99,1.262)(69.095,1.386)(69.2,1.43)(69.305,1.386)(69.41,1.262)(69.515,1.079)(69.62,0.867)(69.725,0.655)(69.83,0.464)(69.935,0.309)(70.04,0.193)(70.145,0.114)(70.25,0.063)(70.355,0.033)(70.46,0.016)(70.565,0.007)(70.67,0.003)(71.4,0)};
\addlegendentry{Br3d\textsubscript{5/2} Ag\textsuperscript{+}/CTAB}
\addplot[cCyan] coordinates {(66.6,0)(68.3,0.002)(68.425,0.005)(68.55,0.011)(68.675,0.022)(68.8,0.042)(68.925,0.076)(69.05,0.130)(69.175,0.208)(69.3,0.312)(69.425,0.439)(69.55,0.582)(69.675,0.725)(69.8,0.847)(69.925,0.930)(70.05,0.96)(70.175,0.930)(70.3,0.847)(70.425,0.725)(70.55,0.582)(70.675,0.439)(70.8,0.312)(70.925,0.208)(71.05,0.130)(71.175,0.076)(71.3,0.042)(71.425,0.022)(71.55,0.011)(71.675,0.005)(71.8,0.002)(72.8,0)};
\addlegendentry{Br3d\textsubscript{3/2} Ag\textsuperscript{+}/CTAB}
\addplot[cDGreen] coordinates {(69.2,0)(69.45,0.002)(69.575,0.005)(69.7,0.009)(69.825,0.017)(69.95,0.028)(70.075,0.045)(70.2,0.068)(70.325,0.096)(70.45,0.127)(70.575,0.159)(70.7,0.185)(70.825,0.203)(70.95,0.21)(71.075,0.203)(71.2,0.185)(71.325,0.159)(71.45,0.127)(71.575,0.096)(71.7,0.068)(71.825,0.045)(71.95,0.028)(72.075,0.017)(72.2,0.009)(72.325,0.005)(72.45,0.002)(72.7,0)};
\addlegendentry{Br3d\textsubscript{5/2} R-Br}
\addplot[cLGreen] coordinates {(70.0,0)(70.3,0.001)(70.425,0.003)(70.55,0.005)(70.675,0.0095)(70.8,0.016)(70.925,0.026)(71.05,0.039)(71.175,0.055)(71.3,0.073)(71.425,0.091)(71.55,0.106)(71.675,0.116)(71.8,0.12)(71.925,0.116)(72.05,0.106)(72.175,0.091)(72.3,0.073)(72.425,0.055)(72.55,0.039)(72.675,0.026)(72.8,0.016)(72.925,0.0095)(73.05,0.005)(73.175,0.003)(73.3,0.001)(73.6,0)};
\addlegendentry{Br3d\textsubscript{3/2} R-Br}
\addplot[black!80] coordinates {(66.5,0.05)(66.6,0.07)(66.7,0.10)(66.8,0.15)(66.9,0.20)(67.0,0.28)(67.1,0.40)(67.2,0.55)(67.3,0.73)(67.4,0.93)(67.5,1.16)(67.6,1.44)(67.7,1.80)(67.8,2.20)(67.9,2.58)(68.0,2.95)(68.1,3.25)(68.2,3.47)(68.3,3.62)(68.4,3.71)(68.5,3.77)(68.6,3.79)(68.7,3.79)(68.8,3.77)(68.9,3.72)(69.0,3.60)(69.1,3.40)(69.2,3.18)(69.3,2.90)(69.4,2.64)(69.5,2.39)(69.6,2.14)(69.7,1.90)(69.8,1.67)(69.9,1.47)(70.0,1.30)(70.1,1.13)(70.2,0.99)(70.3,0.87)(70.4,0.76)(70.5,0.65)(70.6,0.57)(70.7,0.51)(70.8,0.46)(70.9,0.43)(71.0,0.40)(71.1,0.36)(71.2,0.33)(71.3,0.30)(71.4,0.28)(71.5,0.25)(71.6,0.23)(71.7,0.21)(71.8,0.19)(71.9,0.17)(72.0,0.15)(72.1,0.13)(72.2,0.11)(72.3,0.09)(72.4,0.08)(72.5,0.07)(72.6,0.06)(72.7,0.05)(72.8,0.04)(73.0,0.04)};
\addlegendentry{\hspace{2pt}Best Fit}
\end{axis}
% ---------------- titles, labels ----------------
\tikzset{ttl/.style={font=\fontsize{10.7}{12}\selectfont},
  lbl/.style={font=\fontsize{10.2}{12}\selectfont},
  pan/.style={font=\fontsize{11.5}{13}\selectfont}}
\node[ttl] at (106.5pt,336pt) {AuNR-AA - C1s};
\node[ttl] at (323.5pt,337.5pt) {AuNR-AA - N1s};
\node[ttl] at (538.5pt,341pt) {AuNR-AA - Br3d};
\node[ttl] at (106.5pt,163pt) {AuNR-HQ - C1s};
\node[ttl] at (325pt,163pt) {AuNR-HQ - N1s};
\node[ttl] at (538.5pt,161.5pt) {AuNR-HQ - Br3d};
\node[pan] at (15pt,331.5pt) {a)};
\node[pan] at (226.5pt,332.5pt) {b)};
\node[pan] at (446pt,336pt) {c)};
\node[pan] at (15pt,160pt) {d)};
\node[pan] at (232.5pt,157.5pt) {e)};
\node[pan] at (447.5pt,158.5pt) {f)};
\node[lbl] at (111pt,179.5pt) {Binding Energy (eV)};
\node[lbl] at (329.5pt,180.5pt) {Binding Energy (eV)};
\node[lbl] at (546.5pt,183pt) {Binding Energy (eV)};
\node[lbl] at (111pt,6.5pt) {Binding Energy (eV)};
\node[lbl] at (329pt,7.5pt) {Binding Energy (eV)};
\node[lbl] at (545pt,6pt) {Binding Energy (eV)};
\node[lbl, rotate=90] at (9pt,269pt) {Counts (a.u.)};
\node[lbl, rotate=90] at (226pt,269pt) {Counts (a.u.)};
\node[lbl, rotate=90] at (441pt,272.5pt) {Counts (a.u.)};
\node[lbl, rotate=90] at (9pt,94pt) {Counts (a.u.)};
\node[lbl, rotate=90] at (226.5pt,93.5pt) {Counts (a.u.)};
\node[lbl, rotate=90] at (441pt,94pt) {Counts (a.u.)};
\end{tikzpicture}
\end{document}
